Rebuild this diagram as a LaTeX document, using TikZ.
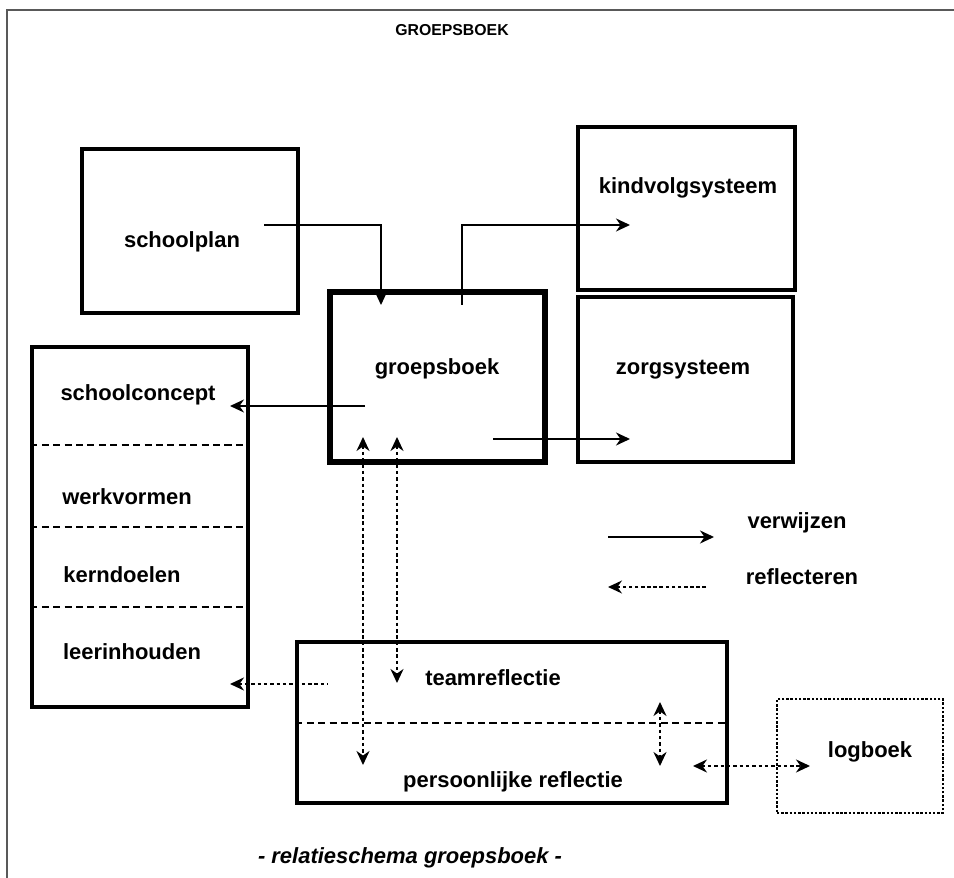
\documentclass[tikz,border=0pt]{standalone}
\usepackage{fontspec}
\setmainfont{Liberation Sans}
\usetikzlibrary{arrows.meta,positioning,fit}

\begin{document}
\begin{tikzpicture}[x=0.02cm,y=-0.02cm,
  box/.style={draw,line width=1.9pt,inner sep=0pt},
  lbl/.style={font=\fontsize{12.5}{14}\selectfont\bfseries,inner sep=0pt},
  sep/.style={line width=1.1pt,dash pattern=on 4pt off 2.5pt},
  verw/.style={line width=1.2pt,-{Stealth[length=2.8mm,width=2.6mm]}},
  refl/.style={line width=1.5pt,dash pattern=on 2pt off 1.6pt,{Stealth[length=2.8mm,width=2.6mm]}-{Stealth[length=2.8mm,width=2.6mm]}}]
\useasboundingbox (0,0) rectangle (954,878);
\draw[line width=1.2pt,gray!70!black] (954,10) -- (7,10) -- (7,878);
\node[font=\fontsize{9}{10}\selectfont\bfseries] (title) at (452,30) {GROEPSBOEK};
% boxes
\node[box,fit={(82,149) (298,313)}] (schoolplan) {};
\node[box,line width=3pt,fit={(330,292) (545,462)}] (groepsboek) {};
\node[box,fit={(578,127) (795,290)}] (kindvolg) {};
\node[box,fit={(578,297) (793,462)}] (zorg) {};
\node[box,fit={(32,347) (248,707)}] (stack) {};
\node[box,fit={(297,642) (727,803)}] (reflectie) {};
\node[draw,line width=1.6pt,dash pattern=on 1.4pt off 1pt,inner sep=0pt,fit={(777,699) (943,813)}] (logboek) {};
\draw[sep] (stack.west |- 0,445) -- (stack.east |- 0,445);
\draw[sep] (stack.west |- 0,527) -- (stack.east |- 0,527);
\draw[sep] (stack.west |- 0,607) -- (stack.east |- 0,607);
\draw[sep] (reflectie.west |- 0,723) -- (reflectie.east |- 0,723);
% labels
\node[lbl] (schoolplan-t) at (182,242) {schoolplan};
\node[lbl] (groepsboek-t) at (437,369) {groepsboek};
\node[lbl] (kindvolg-t) at (688,188) {kindvolgsysteem};
\node[lbl] (zorg-t) at (683,370) {zorgsysteem};
\node[lbl] (concept-t) at (138,395) {schoolconcept};
\node[lbl] (werk-t) at (127,497) {werkvormen};
\node[lbl] (kern-t) at (122,575) {kerndoelen};
\node[lbl] (leer-t) at (132,652) {leerinhouden};
\node[lbl] (team-t) at (493,678) {teamreflectie};
\node[lbl] (pers-t) at (513,782) {persoonlijke reflectie};
\node[lbl] (logboek-t) at (870,752) {logboek};
\node[lbl] (verw-t) at (797,523) {verwijzen};
\node[lbl] (refl-t) at (802,577) {reflecteren};
\node[lbl,font=\fontsize{12.5}{14}\selectfont\bfseries\itshape] (caption) at (410,858) {- relatieschema groepsboek -};
% connector ends
\coordinate (sp-a) at (264,225); \coordinate (gb-a) at (381,305);
\coordinate (gb-b) at (462,305); \coordinate (kv-a) at (630,225);
\coordinate (gb-c) at (493,439); \coordinate (zs-a) at (630,439);
\coordinate (gb-d) at (365,406); \coordinate (sc-a) at (230,406);
\coordinate (gb-e) at (363,437); \coordinate (pr-a) at (363,765);
\coordinate (gb-f) at (397,437); \coordinate (tr-a) at (397,683);
\coordinate (tr-b) at (660,702); \coordinate (pr-b) at (660,766);
\coordinate (pr-c) at (693,766); \coordinate (lb-a) at (810,766);
\coordinate (tr-c) at (328,684); \coordinate (li-a) at (230,684);
\coordinate (lg-a) at (608,537); \coordinate (lg-b) at (714,537);
\coordinate (lg-c) at (706,587); \coordinate (lg-d) at (608,587);
% verwijzen
\draw[verw] (sp-a) -| (gb-a);
\draw[verw] (gb-b) |- (kv-a);
\draw[verw] (gb-c) -- (zs-a);
\draw[verw] (gb-d) -- (sc-a);
\draw[verw] (lg-a) -- (lg-b);
% reflecteren
\draw[refl] (gb-e) -- (pr-a);
\draw[refl] (gb-f) -- (tr-a);
\draw[refl] (tr-b) -- (pr-b);
\draw[refl] (pr-c) -- (lb-a);
\draw[refl,{Stealth[length=2.8mm,width=2.6mm]}-] (li-a) -- (tr-c);
\draw[line width=0.8pt,dash pattern=on 2pt off 1.5pt,-{Stealth[length=2.8mm,width=2.6mm]}] (lg-c) -- (lg-d);
\end{tikzpicture}
\end{document}
